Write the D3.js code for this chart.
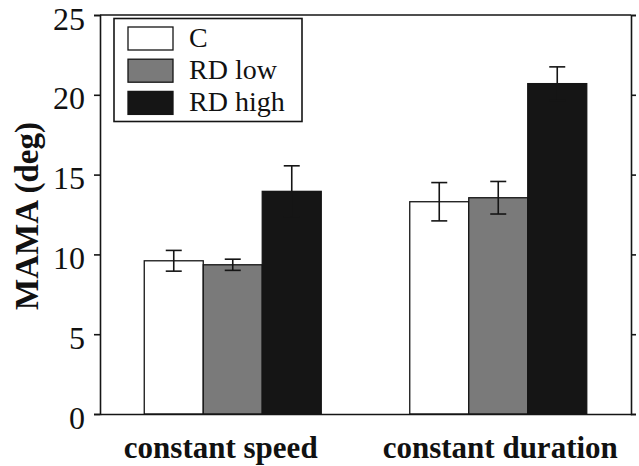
<!DOCTYPE html>
<html>
<head>
<meta charset="utf-8">
<script src="https://cdn.jsdelivr.net/npm/d3@7"></script>
<style>
  body { margin: 0; background: #fff; }
  svg { display: block; }
  text { font-family: 'Liberation Serif', 'Times New Roman', serif; }
</style>
</head>
<body>
<svg width="639" height="466"></svg>
<script>
// chart values
const groups = ['constant speed', 'constant duration']
const series = ['C', 'RD low', 'RD high']
const means = {
  'C': [9.6, 13.3],
  'RD low': [9.35, 13.55],
  'RD high': [13.95, 20.7]
}
const errs = {
  'C': [0.65, 1.2],
  'RD low': [0.35, 1.02],
  'RD high': [1.6, 1.05]
}
const yTicks = [0, 5, 10, 15, 20, 25]

const ink = '#151515'
const fills = { 'C': '#fff', 'RD low': '#7a7a7a', 'RD high': ink }
const serif = 'Liberation Serif'

let svg = d3.select('svg')
let plotL = 100, plotR = 631, plotT = 15, plotB = 414

let x = d3.scaleBand().domain(groups).range([plotL, plotR])
  .paddingInner(1 / 3).paddingOuter(1 / 6)
let xs = d3.scaleBand().domain(series).range([0, x.bandwidth()])
let y = d3.scaleLinear().domain([0, 25]).range([plotB, plotT])

let rows = []
groups.forEach((g, i) => {
  series.forEach(s => {
    rows.push({ g: g, s: s, v: means[s][i], e: errs[s][i] })
  })
})

// bars
svg.append('g')
  .selectAll('rect')
  .data(rows)
  .enter()
  .append('rect')
  .attr('x', d => x(d.g) + xs(d.s))
  .attr('y', d => y(d.v))
  .attr('width', xs.bandwidth())
  .attr('height', d => y(0) - y(d.v))
  .attr('fill', d => fills[d.s])
  .attr('stroke', ink)
  .attr('stroke-width', 1.3)

// error bars
let eb = svg.append('g')
  .attr('stroke', ink)
  .attr('stroke-width', 1.6)
  .selectAll('g')
  .data(rows)
  .enter()
  .append('g')
  .attr('transform', d => `translate(${x(d.g) + xs(d.s) + xs.bandwidth() / 2},0)`)

eb.append('line')
  .attr('y1', d => y(d.v - d.e))
  .attr('y2', d => y(d.v + d.e))
eb.append('line')
  .attr('x1', -8).attr('x2', 8)
  .attr('y1', d => y(d.v + d.e))
  .attr('y2', d => y(d.v + d.e))
eb.append('line')
  .attr('x1', -8).attr('x2', 8)
  .attr('y1', d => y(d.v - d.e))
  .attr('y2', d => y(d.v - d.e))

// axes
let yAxis = svg.append('g')
  .attr('class', 'ax')
  .attr('transform', `translate(${plotL},0)`)
  .call(d3.axisLeft(y).tickValues(yTicks).tickSize(6).tickPadding(9))
yAxis.selectAll('text')
  .attr('font-size', 32)
  .attr('font-family', serif)
  .attr('dy', 14)
  .attr('fill', '#111')

svg.append('g')
  .attr('class', 'ax')
  .attr('transform', `translate(${plotR},0)`)
  .call(d3.axisRight(y).tickValues(yTicks).tickSize(5).tickFormat(''))

svg.append('g')
  .attr('class', 'ax')
  .attr('transform', `translate(0,${plotB})`)
  .call(d3.axisBottom(x).tickSize(0).tickFormat(''))

svg.append('line')
  .attr('class', 'topline')
  .attr('x1', plotL).attr('x2', plotR)
  .attr('y1', plotT).attr('y2', plotT)

svg.selectAll('.ax .domain, .ax .tick line, .topline')
  .attr('stroke', ink)
  .attr('stroke-width', 1.6)

// x labels
svg.append('g')
  .selectAll('text')
  .data(groups)
  .enter()
  .append('text')
  .attr('x', (d, i) => x(d) + x.bandwidth() / 2 + (i === 0 ? -12 : 2))
  .attr('y', 458)
  .attr('text-anchor', 'middle')
  .attr('font-family', serif)
  .attr('font-size', 31)
  .attr('font-weight', 'bold')
  .attr('fill', '#111')
  .text(d => d)

// y label
svg.append('text')
  .attr('transform', 'translate(38,216) rotate(-90)')
  .attr('text-anchor', 'middle')
  .attr('font-family', serif)
  .attr('font-size', 33)
  .attr('font-weight', 'bold')
  .attr('fill', '#111')
  .text('MAMA (deg)')

// legend
let lg = svg.append('g')
lg.append('rect')
  .attr('x', 114).attr('y', 18.5)
  .attr('width', 188).attr('height', 103)
  .attr('fill', '#fff')
  .attr('stroke', ink)
  .attr('stroke-width', 1.6)

let item = lg.selectAll('g')
  .data(series)
  .enter()
  .append('g')
  .attr('transform', (d, i) => `translate(128,${27 + i * 32.2})`)

item.append('rect')
  .attr('width', 45).attr('height', 23)
  .attr('fill', d => fills[d])
  .attr('stroke', ink)
  .attr('stroke-width', 1.3)

item.append('text')
  .attr('x', 61).attr('y', 20)
  .attr('font-family', serif)
  .attr('font-size', 28)
  .attr('fill', '#111')
  .text(d => d)
</script>
</body>
</html>
